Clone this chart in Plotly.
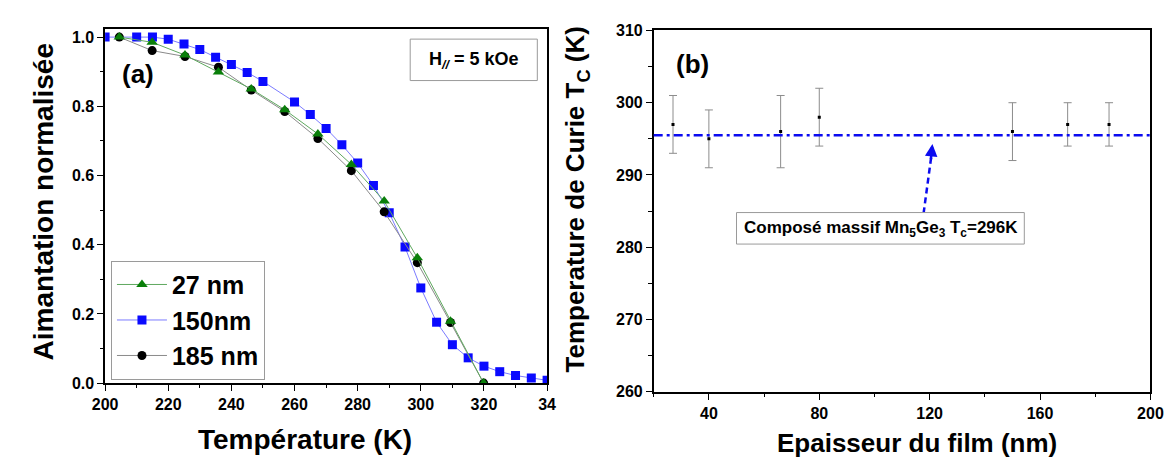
import plotly.graph_objects as go

# ---------------- data ----------------
T_27 = [204.5, 214.9, 225.3, 235.9, 246.3, 256.9, 267.4, 278.0, 288.4, 298.9, 309.4, 319.9]
M_27 = [1.0, 0.985, 0.948, 0.899, 0.85, 0.79, 0.72, 0.632, 0.526, 0.362, 0.179, 0.0]

T_150 = [200, 210, 215, 220, 225, 230, 235, 240, 245, 250, 260, 265, 270, 275,
         280, 285, 290, 295, 300, 305, 310, 315, 320, 325, 330, 335, 340]
M_150 = [1.0, 1.0, 1.0, 0.994, 0.98, 0.964, 0.942, 0.921, 0.898, 0.872, 0.8125, 0.776,
         0.736, 0.689, 0.636, 0.571, 0.492, 0.393, 0.275, 0.176, 0.111, 0.073, 0.049,
         0.033, 0.022, 0.015, 0.008]

T_185 = [204.5, 214.9, 225.3, 235.9, 246.3, 256.9, 267.4, 278.0, 288.4, 298.9, 309.4, 319.9]
M_185 = [1.0, 0.961, 0.944, 0.913, 0.847, 0.785, 0.707, 0.614, 0.495, 0.348, 0.175, 0.0]

THICKNESS = [27, 40, 66, 80, 150, 170, 185]
TC = [297, 295, 296, 298, 296, 297, 297]
TC_ERR = [4, 4, 5, 4, 4, 3, 3]
TC_BULK = 295.5

X_TICKS_A = [200, 220, 240, 260, 280, 300, 320, 340]
X_TICKTEXT_A = ["200", "220", "240", "260", "280", "300", "320", "34"]
Y_TICKS_A = [0.0, 0.2, 0.4, 0.6, 0.8, 1.0]
X_TICKS_B = [40, 80, 120, 160, 200]
Y_TICKS_B = [260, 270, 280, 290, 300, 310]

FONT = "Liberation Sans, Arial, sans-serif"
W, H = 1175, 466


def px(x):
    return x / W


def py(y):
    return 1 - y / H


fig = go.Figure()

# ---- panel (a) ----
fig.add_trace(go.Scatter(
    x=T_150, y=M_150, mode="lines+markers", name="150nm", legendrank=2,
    line=dict(color="#7b7bff", width=1),
    marker=dict(symbol="square", size=9, color="#0a0aff"),
    xaxis="x", yaxis="y"))
fig.add_trace(go.Scatter(
    x=T_185, y=M_185, mode="lines+markers", name="185 nm", legendrank=3,
    line=dict(color="#8a8a8a", width=1),
    marker=dict(symbol="circle", size=9, color="black"),
    xaxis="x", yaxis="y"))
fig.add_trace(go.Scatter(
    x=T_27, y=M_27, mode="lines+markers", name="27 nm", legendrank=1,
    line=dict(color="#5fa85f", width=1),
    marker=dict(symbol="triangle-up", size=10, color="#0a7f0a"),
    xaxis="x", yaxis="y"))

# ---- panel (b) ----
fig.add_trace(go.Scatter(
    x=THICKNESS, y=TC, mode="markers", showlegend=False,
    marker=dict(symbol="square", size=3, color="black"),
    error_y=dict(type="data", array=TC_ERR, visible=True, color="#8c8c8c",
                 thickness=1, width=4),
    xaxis="x2", yaxis="y2"))

axis_common = dict(
    showline=True, linecolor="black", linewidth=1.5, mirror=True,
    ticks="outside", ticklen=6, tickwidth=1.2, tickcolor="black",
    showgrid=False, zeroline=False,
    tickfont=dict(family=FONT, size=16, color="black", weight="bold"),
)

fig.update_layout(
    width=W, height=H,
    margin=dict(l=0, r=0, t=0, b=0),
    paper_bgcolor="white", plot_bgcolor="white",
    font=dict(family=FONT, color="black"),
    xaxis=dict(domain=[px(86), px(538)], range=[200, 340], anchor="y",
               tickvals=X_TICKS_A, ticktext=X_TICKTEXT_A,
               minor=dict(dtick=10, ticks="outside", ticklen=3.5, tickcolor="black"),
               **axis_common),
    yaxis=dict(domain=[py(381), py(14)], range=[0, 1.022], anchor="x",
               tickvals=Y_TICKS_A, tickformat=".1f",
               minor=dict(dtick=0.1, ticks="outside", ticklen=3.5, tickcolor="black"),
               **axis_common),
    xaxis2=dict(domain=[px(647), px(1155)], range=[20, 200], anchor="y2",
                tickvals=X_TICKS_B,
                minor=dict(dtick=20, ticks="outside", ticklen=3.5, tickcolor="black"),
                **axis_common),
    yaxis2=dict(domain=[py(390), py(15)], range=[260, 310], anchor="x2",
                tickvals=Y_TICKS_B,
                minor=dict(dtick=5, ticks="outside", ticklen=3.5, tickcolor="black"),
                **axis_common),
    legend=dict(x=px(92), y=py(254), xanchor="left", yanchor="top",
                bordercolor="#9a9a9a", borderwidth=1, bgcolor="white",
                font=dict(family=FONT, size=25, color="black", weight="bold"),
                itemwidth=50, tracegroupgap=0),
)

shapes = [
    # bulk Tc reference line
    dict(type="line", xref="x2 domain", yref="y2", x0=0, x1=1, y0=TC_BULK, y1=TC_BULK,
         line=dict(color="#0b0bf0", width=2.6, dash="9px,4px,3px,4px")),
    # dashed arrow shaft
    dict(type="line", xref="x2", yref="y2", x0=117.8, y0=284.7, x1=120.6, y1=292.6,
         line=dict(color="#0b0bf0", width=2.5, dash="6px,4px")),
    # box for bulk label
    dict(type="rect", xref="paper", yref="paper",
         x0=px(731.7), x1=px(1026), y0=py(236.7), y1=py(204),
         line=dict(color="#9a9a9a", width=1), fillcolor="white"),
    # H box
    dict(type="rect", xref="paper", yref="paper",
         x0=px(398), x1=px(528), y0=py(67), y1=py(24),
         line=dict(color="#9a9a9a", width=1), fillcolor="white"),
]
fig.update_layout(shapes=shapes)

title_a = dict(family=FONT, size=28, color="black", weight="bold")
title_b = dict(family=FONT, size=26, color="black", weight="bold")
c = dict(xref="paper", yref="paper", showarrow=False, xanchor="center", yanchor="middle")
annotations = [
    dict(text="Aimantation normalisée", x=px(23), y=py(193), textangle=-90,
         font=title_a, **c),
    dict(text="Température (K)", x=px(290), y=py(440), font=title_a, **c),
    dict(text="Temperature de Curie T<sub>C</sub> (K)", x=px(568), y=py(190),
         textangle=-90, font=title_b, **c),
    dict(text="Epaisseur du film (nm)", x=px(916), y=py(443), font=title_b, **c),
    dict(text="(a)", x=px(120), y=py(60),
         font=dict(family=FONT, size=26, color="black", weight="bold"), **c),
    dict(text="(b)", x=px(687), y=py(50),
         font=dict(family=FONT, size=26, color="black", weight="bold"), **c),
    dict(text="H<sub><i>//</i></sub> = 5 kOe", x=px(463), y=py(46),
         font=dict(family=FONT, size=18, color="black", weight="bold"), **c),
    dict(text="Composé massif Mn<sub>5</sub>Ge<sub>3</sub> T<sub>c</sub>=296K",
         x=px(879), y=py(221),
         font=dict(family=FONT, size=17, color="black", weight="bold"), **c),
    # arrow head
    dict(text="", x=121.0, y=294.3, xref="x2", yref="y2", ax=120.4, ay=292.0,
         axref="x2", ayref="y2", showarrow=True, arrowhead=2, arrowsize=1,
         arrowwidth=2.5, arrowcolor="#0b0bf0"),
]
fig.update_layout(annotations=annotations)

fig.write_html("out.html")
